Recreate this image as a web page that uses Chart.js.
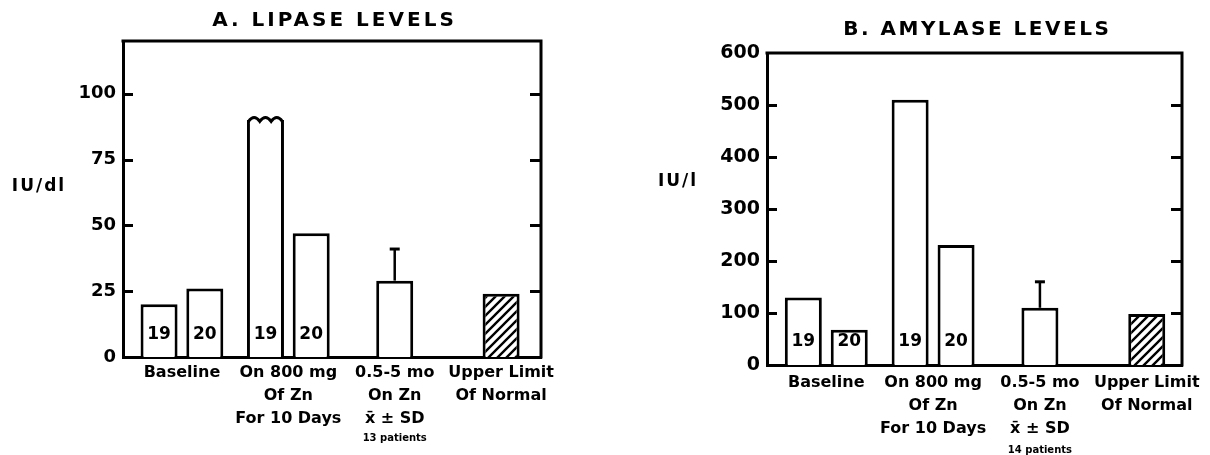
<!DOCTYPE html>
<html>
<head>
<meta charset="utf-8">
<script src="https://cdn.jsdelivr.net/npm/chart.js@4.4.1/dist/chart.umd.min.js"></script>
<style>
  html, body { margin: 0; padding: 0; background: #fff; }
  #wrap { position: relative; width: 1210px; height: 455px; overflow: hidden; }
  canvas { position: absolute; top: 0; }
  #lipase { left: 0; }
  #amylase { left: 600px; }
</style>
</head>
<body>
<div id="wrap">
  <canvas id="lipase" width="600" height="455"></canvas>
  <canvas id="amylase" width="610" height="455"></canvas>
</div>
<script>
// ---- group labels shared by both panels ----
const groupIndex = [0, 1, 2, 3];
const groupLabels = [
  ['Baseline'],
  ['On 800 mg', 'Of Zn', 'For 10 Days'],
  ['0.5-5 mo', 'On Zn', 'x\u0304 \u00b1 SD'],
  ['Upper Limit', 'Of Normal']
];

// patients per bar (printed inside the bars)
const firstN = ['19', '19', null, null];
const secondN = ['20', '20', null, null];

// ---- A. lipase (IU/dl) ----
const lipaseFirst = [20, 90, 29, 24];
const lipaseSecond = [26, 47, null, null];
const lipaseSD = [null, null, 12, null];
const lipaseBroken = [false, true, false, false];
const lipaseNotes = [null, null, '13 patients', null];
const lipaseTicks = [0, 25, 50, 75, 100];

// ---- B. amylase (IU/l) ----
const amylaseFirst = [130, 510, 110, 98];
const amylaseSecond = [68, 231, null, null];
const amylaseSD = [null, null, 50, null];
const amylaseBroken = [false, false, false, false];
const amylaseNotes = [null, null, '14 patients', null];
const amylaseTicks = [0, 100, 200, 300, 400, 500, 600];

const FONT = "'DejaVu Sans', sans-serif";
const INK = '#000';

// diagonal hatch used for the "upper limit of normal" bar
function makeHatch() {
  const s = 9;
  const c = document.createElement('canvas');
  c.width = s; c.height = s;
  const g = c.getContext('2d');
  g.fillStyle = '#fff';
  g.fillRect(0, 0, s, s);
  g.strokeStyle = INK;
  g.lineWidth = 2.4;
  g.lineCap = 'square';
  g.beginPath();
  g.moveTo(-2, s + 2); g.lineTo(s + 2, -2);
  g.moveTo(-2, 2); g.lineTo(2, -2);
  g.moveTo(s - 2, s + 2); g.lineTo(s + 2, s - 2);
  g.stroke();
  return g.createPattern(c, 'repeat');
}
const hatch = makeHatch();

function spacedText(ctx, text, x, y, spacing, font) {
  ctx.save();
  ctx.font = font;
  ctx.letterSpacing = spacing + 'px';
  ctx.textAlign = 'center';
  ctx.textBaseline = 'middle';
  ctx.fillStyle = INK;
  ctx.fillText(text, x + spacing / 2, y);
  ctx.restore();
}

// frame, inward tick marks, error bars, counts, broken bar tops, titles
const panelDecor = {
  id: 'panelDecor',
  afterDatasetsDraw(chart, args, o) {
    const ctx = chart.ctx;
    const { left, right, top, bottom } = chart.chartArea;
    const yS = chart.scales.y;
    ctx.save();
    ctx.strokeStyle = INK;
    ctx.lineWidth = 3;
    ctx.lineCap = 'square';

    // top and right sides of the box
    ctx.beginPath();
    ctx.moveTo(left, top);
    ctx.lineTo(right, top);
    ctx.lineTo(right, bottom);
    ctx.stroke();

    // tick marks pointing into the box on both sides
    ctx.lineCap = 'butt';
    yS.ticks.forEach(t => {
      if (t.value <= yS.min || t.value >= yS.max) return;
      const y = Math.round(yS.getPixelForValue(t.value)) + 0.5;
      ctx.beginPath();
      ctx.moveTo(left, y); ctx.lineTo(left + 10, y);
      ctx.moveTo(right, y); ctx.lineTo(right - 11, y);
      ctx.stroke();
    });

    const meta0 = chart.getDatasetMeta(0);

    // mean + SD whisker
    o.sd.forEach((sd, i) => {
      if (sd == null) return;
      const el = meta0.data[i];
      const v = chart.data.datasets[0].data[i];
      const yTop = yS.getPixelForValue(v + sd);
      ctx.lineWidth = 2.5;
      ctx.beginPath();
      ctx.moveTo(el.x, el.y);
      ctx.lineTo(el.x, yTop);
      ctx.stroke();
      ctx.lineWidth = 3;
      ctx.beginPath();
      ctx.moveTo(el.x - 5, yTop);
      ctx.lineTo(el.x + 5, yTop);
      ctx.stroke();
    });

    // broken (truncated) bar tops
    o.broken.forEach((b, i) => {
      if (!b) return;
      const el = meta0.data[i];
      const x0 = el.x - el.width / 2 + 1.5;
      const x1 = el.x + el.width / 2 - 1.5;
      ctx.fillStyle = '#fff';
      ctx.fillRect(x0 + 1.5, el.y - 1, x1 - x0 - 3, 5);
      const yb = el.y + 1.5;
      const seg = (x1 - x0) / 3;
      ctx.lineWidth = 3;
      ctx.beginPath();
      ctx.moveTo(x0, yb);
      for (let k = 0; k < 3; k++) {
        ctx.quadraticCurveTo(x0 + seg * (k + 0.5), yb - 8, x0 + seg * (k + 1), yb);
      }
      ctx.stroke();
    });

    // patient counts inside the bars
    ctx.fillStyle = INK;
    ctx.font = 'bold 17px ' + FONT;
    ctx.textAlign = 'center';
    ctx.textBaseline = 'middle';
    chart.data.datasets.forEach((ds, di) => {
      const meta = chart.getDatasetMeta(di);
      ds.nLabels.forEach((n, i) => {
        if (n == null) return;
        const el = meta.data[i];
        ctx.fillText(n, el.x, bottom - o.countLift);
      });
    });
    ctx.restore();
  },
  afterDraw(chart, args, o) {
    const ctx = chart.ctx;
    spacedText(ctx, o.title, o.titleX, o.titleY, o.titleSpacing, 'bold 20px ' + FONT);
    spacedText(ctx, o.yTitle, o.yTitleX, o.yTitleY, 2, 'bold 17px ' + FONT);
    const xS = chart.scales.x;
    ctx.save();
    ctx.font = 'bold 10px ' + FONT;
    ctx.fillStyle = INK;
    ctx.textAlign = 'center';
    ctx.textBaseline = 'middle';
    o.notes.forEach((n, i) => {
      if (n == null) return;
      ctx.fillText(n, xS.getPixelForValue(groupIndex[i]), o.noteY);
    });
    ctx.restore();
  }
};

function buildPanel(id, p) {
  return new Chart(document.getElementById(id), {
    type: 'bar',
    data: {
      labels: groupIndex,
      datasets: [
        { data: p.first, nLabels: firstN, backgroundColor: ['#fff', '#fff', '#fff', hatch],
          borderColor: INK, borderWidth: 3 },
        { data: p.second, nLabels: secondN, backgroundColor: '#fff',
          borderColor: INK, borderWidth: 3 }
      ]
    },
    options: {
      responsive: false,
      animation: false,
      devicePixelRatio: 1,
      events: [],
      layout: { padding: { left: 0, right: p.padRight, top: p.padTop, bottom: 0 } },
      datasets: {
        bar: { skipNull: true, categoryPercentage: 0.86, barPercentage: 0.9, maxBarThickness: 37 }
      },
      plugins: {
        legend: { display: false },
        tooltip: { enabled: false },
        panelDecor: {
          title: p.title, titleX: p.titleX, titleY: p.titleY, titleSpacing: p.titleSpacing,
          yTitle: p.yTitle, yTitleX: p.yTitleX, yTitleY: p.yTitleY,
          sd: p.sd, broken: p.broken, notes: p.notes, noteY: p.noteY, countLift: p.countLift
        }
      },
      scales: {
        x: {
          type: 'linear',
          min: p.xMin,
          max: p.xMax,
          offset: false,
          grid: { display: false, drawTicks: false, offset: false },
          border: { display: true, color: INK, width: 3 },
          afterBuildTicks: s => { s.ticks = groupIndex.map(v => ({ value: v })); },
          afterFit: s => { s.height = p.xHeight; },
          ticks: {
            autoSkip: false, maxRotation: 0, minRotation: 0, padding: p.xPad, color: INK,
            font: { family: FONT, size: 16, weight: 'bold', lineHeight: 1.45 },
            callback: v => groupLabels[v]
          }
        },
        y: {
          min: 0,
          max: p.yMax,
          grid: { display: false, drawTicks: false },
          border: { display: true, color: INK, width: 3 },
          afterBuildTicks: s => { s.ticks = p.ticks.map(v => ({ value: v })); },
          afterFit: s => { s.width = p.yWidth; },
          ticks: { padding: 7, color: INK, font: { family: FONT, size: p.tickSize, weight: 'bold' } }
        }
      }
    },
    plugins: [panelDecor]
  });
}

buildPanel('lipase', {
  first: lipaseFirst, second: lipaseSecond, sd: lipaseSD, broken: lipaseBroken,
  notes: lipaseNotes, ticks: lipaseTicks, yMax: 120,
  title: 'A. LIPASE LEVELS', titleX: 333, titleY: 21, titleSpacing: 3,
  yTitle: 'IU/dl', yTitleX: 38, yTitleY: 187,
  padRight: 59, padTop: 41, yWidth: 123, xHeight: 98, xPad: 4,
  xMin: -0.554, xMax: 3.375, tickSize: 18, noteY: 438, countLift: 22
});

buildPanel('amylase', {
  first: amylaseFirst, second: amylaseSecond, sd: amylaseSD, broken: amylaseBroken,
  notes: amylaseNotes, ticks: amylaseTicks, yMax: 600,
  title: 'B. AMYLASE LEVELS', titleX: 376, titleY: 30, titleSpacing: 2.5,
  yTitle: 'IU/l', yTitleX: 77, yTitleY: 182,
  padRight: 28, padTop: 53, yWidth: 167, xHeight: 90, xPad: 6,
  xMin: -0.555, xMax: 3.33, tickSize: 19, noteY: 450, countLift: 23
});
</script>
</body>
</html>
